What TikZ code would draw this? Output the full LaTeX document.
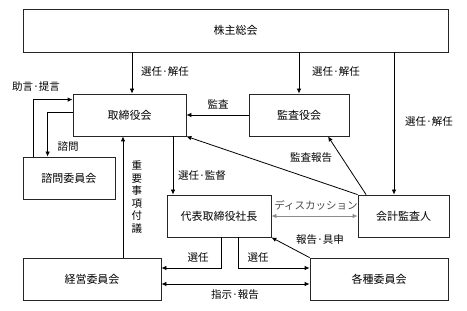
\documentclass[tikz,border=0pt]{standalone}
\usepackage{fontspec}
\setmainfont{Noto Sans CJK JP}
\usetikzlibrary{arrows.meta}
\begin{document}
\begin{tikzpicture}[x=1pt,y=1pt,
  box/.style={draw=black!85,line width=0.8pt,inner sep=0pt,font=\fontsize{11}{13}\selectfont},
  lbl/.style={inner sep=0pt,font=\fontsize{10.5}{12}\selectfont},
  conn/.style={line width=0.8pt,black},
  arr/.style={conn,-{Latex[length=5pt,width=4.5pt]}},
  darr/.style={conn,{Latex[length=5pt,width=4.5pt]}-{Latex[length=5pt,width=4.5pt]}}]
\useasboundingbox (0,0) rectangle (467,311);
% boxes
\node[box,minimum width=425pt,minimum height=43pt] (sh) at (235.5,280.5) {株主総会};
\node[box,minimum width=113pt,minimum height=42pt] (bd) at (129.5,196) {取締役会};
\node[box,minimum width=100pt,minimum height=42pt] (ks) at (299,196) {監査役会};
\node[box,minimum width=92pt,minimum height=42pt] (sm) at (69,133) {諮問委員会};
\node[box,minimum width=104pt,minimum height=42pt] (ceo) at (219,95) {代表取締役社長};
\node[box,minimum width=91pt,minimum height=42pt] (aud) at (403.5,95) {会計監査人};
\node[box,minimum width=138pt,minimum height=42pt] (mc) at (92,32) {経営委員会};
\node[box,minimum width=138pt,minimum height=42pt] (vc) at (379,32) {各種委員会};
% helper coordinates
\coordinate (c1) at ([xshift=2.5pt]bd.north);
\coordinate (c3) at ([xshift=-9.5pt]aud.north);
\coordinate (c7) at ([xshift=-6.5pt]bd.south);
\coordinate (c8) at ([xshift=43.5pt]bd.south);
\coordinate (c10) at ([xshift=8.5pt]aud.north west);
\coordinate (c10e) at ([xshift=29pt]ks.south);
% connectors
\draw[arr] (c1 |- sh.south) -- (c1);
\draw[arr] (ks.north |- sh.south) -- (ks.north);
\draw[arr] (c3 |- sh.south) -- (c3);
\draw[arr] (ks.west) -- (bd.east);
\draw[arr] ([xshift=11pt]sm.north west) |- ([yshift=-6pt]bd.north west);
\draw[arr] ([yshift=3pt]bd.west) -| ([xshift=25pt]sm.north west);
\draw[arr] (c7 |- mc.north) -- (c7);
\draw[arr] (c8) -- (c8 |- ceo.north);
\draw[arr] (aud.north west) -- (bd.south east);
\draw[arr] (c10) -- (c10e);
\draw[darr,draw=black!45] (ceo.east) -- (aud.west);
\draw[arr] (vc.north west) -- (ceo.south east);
\draw[arr] ([xshift=2pt]ceo.south) |- ([yshift=11pt]mc.east);
\draw[arr] ([xshift=19pt]ceo.south) |- ([yshift=11pt]vc.west);
\draw[darr] ([yshift=-5pt]mc.east) -- ([yshift=-5pt]vc.west);
% labels
\node[lbl] (l1) at (165,239) {選任·解任};
\node[lbl] (l2) at (336,239) {選任·解任};
\node[lbl] (l3) at (429,189) {選任·解任};
\node[lbl] (l4) at (218,207) {監査};
\node[lbl] (l5) at (36,224) {助言·提言};
\node[lbl] (l6) at (68,164) {諮問};
\node[lbl,align=center,font=\fontsize{10.5}{12.6}\selectfont] (l7) at (137,114) {重\\要\\事\\項\\付\\議};
\node[lbl] (l8) at (202,135) {選任·監督};
\node[lbl] (l9) at (311,153) {監査報告};
\node[lbl,text=black!70] (l10) at (316,106) {ディスカッション};
\node[lbl] (l11) at (320,71) {報告·具申};
\node[lbl] (l12) at (198,53) {選任};
\node[lbl] (l13) at (258,53) {選任};
\node[lbl] (l14) at (235,16) {指示·報告};
\end{tikzpicture}
\end{document}
